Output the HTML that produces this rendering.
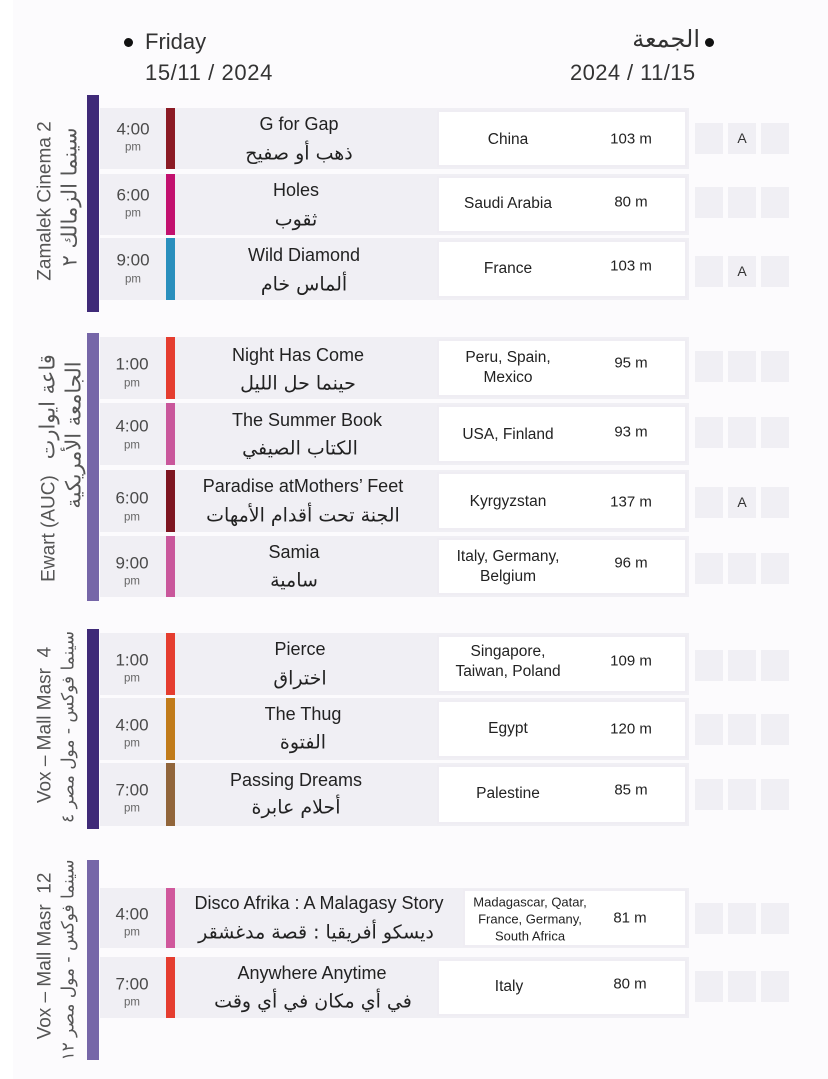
<!DOCTYPE html>
<html><head><meta charset="utf-8">
<style>
html,body{margin:0;padding:0}
body{width:828px;height:1079px;position:relative;overflow:hidden;background:#fcfbfd;font-family:"Liberation Sans","DejaVu Sans",sans-serif;color:#222}
.strip{position:absolute;left:0;top:0;width:13px;height:1079px;background:#fff}
.c{position:absolute;transform:translate(-50%,-50%);white-space:nowrap;text-align:center;line-height:1}
.bar{position:absolute;left:87px;width:12px}
.row{position:absolute;left:100px;width:589px;background:#f0eff4}
.box{position:absolute;background:#fff;border:2px solid #efedf3;box-sizing:border-box}
.cs{position:absolute;left:166px;width:9px}
.sq{position:absolute;width:28px;height:31px;background:#f0eff4;font-size:14px;color:#333;text-align:center;line-height:31px}
.tm{font-size:17px;color:#4a4a4a}
.pm{font-size:11.5px;color:#666}
.en{font-size:18px;color:#222}
.ar{font-size:19px;color:#222;font-family:"DejaVu Sans",sans-serif;direction:rtl}
.ct{font-size:15.5px;color:#222;line-height:20px}
.ct2{font-size:13px;color:#222;line-height:17px}
.du{font-size:15px;color:#222}
.vl{position:absolute;white-space:nowrap;transform:translate(-50%,-50%) rotate(-90deg);font-size:19px;color:#555;line-height:1}
.va{font-family:"DejaVu Sans",sans-serif;font-size:18px}
.dot{position:absolute;width:9px;height:9px;border-radius:50%;background:#111}
.hd{font-size:22px;color:#333;position:absolute;white-space:nowrap;line-height:1}
</style></head><body>
<div class="strip"></div>

<!-- header -->
<div class="dot" style="left:124px;top:38px"></div>
<div class="hd" style="left:145px;top:31px">Friday</div>
<div class="hd" style="left:145px;top:62px;letter-spacing:0.6px">15/11 / 2024</div>
<div class="dot" style="left:705px;top:38px"></div>
<div class="hd" style="right:128px;top:27px;font-family:'DejaVu Sans',sans-serif;font-size:24px">الجمعة</div>
<div class="hd" style="left:570px;top:62px;letter-spacing:0.4px">2024 / 11/15</div>

<!-- SECTION 1 -->
<div class="bar" style="top:95px;height:217px;background:#3f2a78"></div>
<div class="vl" style="left:45px;top:201px">Zamalek Cinema 2</div>
<div class="vl va" style="left:70px;top:197px;font-size:21px">سينما الزمالك ٢</div>

<div class="row" style="top:108px;height:61px"></div>
<div class="box" style="left:437px;top:110px;width:250px;height:57px"></div>
<div class="cs" style="top:108px;height:61px;background:#8b1a24"></div>
<div class="c tm" style="left:133px;top:129px">4:00</div>
<div class="c pm" style="left:133px;top:148px">pm</div>
<div class="c en" style="left:299px;top:124px">G for Gap</div>
<div class="c ar" style="left:299px;top:154px">ذهب أو صفيح</div>
<div class="c ct" style="left:508px;top:140px">China</div>
<div class="c du" style="left:631px;top:139px">103 m</div>
<div class="sq" style="left:695px;top:123px"></div><div class="sq" style="left:728px;top:123px">A</div><div class="sq" style="left:761px;top:123px"></div>

<div class="row" style="top:174px;height:61px"></div>
<div class="box" style="left:437px;top:176px;width:250px;height:57px"></div>
<div class="cs" style="top:174px;height:61px;background:#c2106e"></div>
<div class="c tm" style="left:133px;top:195px">6:00</div>
<div class="c pm" style="left:133px;top:214px">pm</div>
<div class="c en" style="left:296px;top:190px">Holes</div>
<div class="c ar" style="left:296px;top:220px">ثقوب</div>
<div class="c ct" style="left:508px;top:204px">Saudi Arabia</div>
<div class="c du" style="left:631px;top:202px">80 m</div>
<div class="sq" style="left:695px;top:187px"></div><div class="sq" style="left:728px;top:187px"></div><div class="sq" style="left:761px;top:187px"></div>

<div class="row" style="top:238px;height:62px"></div>
<div class="box" style="left:437px;top:240px;width:250px;height:58px"></div>
<div class="cs" style="top:238px;height:62px;background:#2a8fbd"></div>
<div class="c tm" style="left:133px;top:260px">9:00</div>
<div class="c pm" style="left:133px;top:280px">pm</div>
<div class="c en" style="left:304px;top:255px">Wild Diamond</div>
<div class="c ar" style="left:304px;top:285px">ألماس خام</div>
<div class="c ct" style="left:508px;top:269px">France</div>
<div class="c du" style="left:631px;top:266px">103 m</div>
<div class="sq" style="left:695px;top:256px"></div><div class="sq" style="left:728px;top:256px">A</div><div class="sq" style="left:761px;top:256px"></div>

<!-- SECTION 2 -->
<div class="bar" style="top:333px;height:268px;background:#7666a8"></div>
<div class="vl" style="left:48px;top:468px">Ewart (AUC)&nbsp;&nbsp;&nbsp;<span class="va" style="font-size:21px">قاعة ايوارت</span></div>
<div class="vl va" style="left:74px;top:435px;font-size:21px">الجامعة الأمريكية</div>

<div class="row" style="top:337px;height:62px"></div>
<div class="box" style="left:437px;top:339px;width:250px;height:58px"></div>
<div class="cs" style="top:337px;height:62px;background:#e53d2f"></div>
<div class="c tm" style="left:132px;top:364px">1:00</div>
<div class="c pm" style="left:132px;top:384px">pm</div>
<div class="c en" style="left:298px;top:355px">Night Has Come</div>
<div class="c ar" style="left:298px;top:384px">حينما حل الليل</div>
<div class="c ct" style="left:508px;top:368px">Peru, Spain,<br>Mexico</div>
<div class="c du" style="left:631px;top:363px">95 m</div>
<div class="sq" style="left:695px;top:351px"></div><div class="sq" style="left:728px;top:351px"></div><div class="sq" style="left:761px;top:351px"></div>

<div class="row" style="top:403px;height:62px"></div>
<div class="box" style="left:437px;top:405px;width:250px;height:58px"></div>
<div class="cs" style="top:403px;height:62px;background:#c9579b"></div>
<div class="c tm" style="left:132px;top:426px">4:00</div>
<div class="c pm" style="left:132px;top:446px">pm</div>
<div class="c en" style="left:307px;top:420px">The Summer Book</div>
<div class="c ar" style="left:300px;top:449px">الكتاب الصيفي</div>
<div class="c ct" style="left:508px;top:435px">USA, Finland</div>
<div class="c du" style="left:631px;top:432px">93 m</div>
<div class="sq" style="left:695px;top:417px"></div><div class="sq" style="left:728px;top:417px"></div><div class="sq" style="left:761px;top:417px"></div>

<div class="row" style="top:470px;height:62px"></div>
<div class="box" style="left:437px;top:472px;width:250px;height:58px"></div>
<div class="cs" style="top:470px;height:62px;background:#7d1520"></div>
<div class="c tm" style="left:132px;top:498px">6:00</div>
<div class="c pm" style="left:132px;top:518px">pm</div>
<div class="c en" style="left:303px;top:486px">Paradise atMothers’ Feet</div>
<div class="c ar" style="left:303px;top:516px">الجنة تحت أقدام الأمهات</div>
<div class="c ct" style="left:508px;top:502px">Kyrgyzstan</div>
<div class="c du" style="left:631px;top:502px">137 m</div>
<div class="sq" style="left:695px;top:487px"></div><div class="sq" style="left:728px;top:487px">A</div><div class="sq" style="left:761px;top:487px"></div>

<div class="row" style="top:536px;height:61px"></div>
<div class="box" style="left:437px;top:538px;width:250px;height:57px"></div>
<div class="cs" style="top:536px;height:61px;background:#c9579b"></div>
<div class="c tm" style="left:132px;top:563px">9:00</div>
<div class="c pm" style="left:132px;top:582px">pm</div>
<div class="c en" style="left:294px;top:552px">Samia</div>
<div class="c ar" style="left:294px;top:581px">سامية</div>
<div class="c ct" style="left:508px;top:567px">Italy, Germany,<br>Belgium</div>
<div class="c du" style="left:631px;top:563px">96 m</div>
<div class="sq" style="left:695px;top:553px"></div><div class="sq" style="left:728px;top:553px"></div><div class="sq" style="left:761px;top:553px"></div>

<!-- SECTION 3 -->
<div class="bar" style="top:629px;height:200px;background:#3f2a78"></div>
<div class="vl" style="left:45px;top:725px">Vox – Mall Masr&nbsp;&nbsp;4</div>
<div class="vl va" style="left:69px;top:727px;font-size:17px">سينما فوكس - مول مصر ٤</div>

<div class="row" style="top:633px;height:62px"></div>
<div class="box" style="left:437px;top:635px;width:250px;height:58px"></div>
<div class="cs" style="top:633px;height:62px;background:#e53d2f"></div>
<div class="c tm" style="left:132px;top:660px">1:00</div>
<div class="c pm" style="left:132px;top:679px">pm</div>
<div class="c en" style="left:300px;top:649px">Pierce</div>
<div class="c ar" style="left:300px;top:679px">اختراق</div>
<div class="c ct" style="left:508px;top:662px">Singapore,<br>Taiwan, Poland</div>
<div class="c du" style="left:631px;top:661px">109 m</div>
<div class="sq" style="left:695px;top:650px"></div><div class="sq" style="left:728px;top:650px"></div><div class="sq" style="left:761px;top:650px"></div>

<div class="row" style="top:698px;height:62px"></div>
<div class="box" style="left:437px;top:700px;width:250px;height:58px"></div>
<div class="cs" style="top:698px;height:62px;background:#c17b1a"></div>
<div class="c tm" style="left:132px;top:725px">4:00</div>
<div class="c pm" style="left:132px;top:744px">pm</div>
<div class="c en" style="left:303px;top:714px">The Thug</div>
<div class="c ar" style="left:303px;top:743px">الفتوة</div>
<div class="c ct" style="left:508px;top:729px">Egypt</div>
<div class="c du" style="left:631px;top:729px">120 m</div>
<div class="sq" style="left:695px;top:714px"></div><div class="sq" style="left:728px;top:714px"></div><div class="sq" style="left:761px;top:714px"></div>

<div class="row" style="top:763px;height:63px"></div>
<div class="box" style="left:437px;top:765px;width:250px;height:59px"></div>
<div class="cs" style="top:763px;height:63px;background:#91653a"></div>
<div class="c tm" style="left:132px;top:790px">7:00</div>
<div class="c pm" style="left:132px;top:809px">pm</div>
<div class="c en" style="left:296px;top:780px">Passing Dreams</div>
<div class="c ar" style="left:296px;top:808px">أحلام عابرة</div>
<div class="c ct" style="left:508px;top:794px">Palestine</div>
<div class="c du" style="left:631px;top:790px">85 m</div>
<div class="sq" style="left:695px;top:779px"></div><div class="sq" style="left:728px;top:779px"></div><div class="sq" style="left:761px;top:779px"></div>

<!-- SECTION 4 -->
<div class="bar" style="top:860px;height:200px;background:#7666a8"></div>
<div class="vl" style="left:45px;top:956px">Vox – Mall Masr&nbsp;&nbsp;12</div>
<div class="vl va" style="left:69px;top:960px;font-size:17px">سينما فوكس - مول مصر ١٢</div>

<div class="row" style="top:888px;height:60px"></div>
<div class="box" style="left:463px;top:889px;width:224px;height:58px"></div>
<div class="cs" style="top:888px;height:60px;background:#d0589c"></div>
<div class="c tm" style="left:132px;top:914px">4:00</div>
<div class="c pm" style="left:132px;top:933px">pm</div>
<div class="c en" style="left:319px;top:903px">Disco Afrika : A Malagasy Story</div>
<div class="c ar" style="left:316px;top:933px">ديسكو أفريقيا : قصة مدغشقر</div>
<div class="c ct2" style="left:530px;top:919px">Madagascar, Qatar,<br>France, Germany,<br>South Africa</div>
<div class="c du" style="left:630px;top:918px">81 m</div>
<div class="sq" style="left:695px;top:903px"></div><div class="sq" style="left:728px;top:903px"></div><div class="sq" style="left:761px;top:903px"></div>

<div class="row" style="top:957px;height:61px"></div>
<div class="box" style="left:437px;top:959px;width:250px;height:57px"></div>
<div class="cs" style="top:957px;height:61px;background:#e53d2f"></div>
<div class="c tm" style="left:132px;top:984px">7:00</div>
<div class="c pm" style="left:132px;top:1003px">pm</div>
<div class="c en" style="left:312px;top:973px">Anywhere Anytime</div>
<div class="c ar" style="left:313px;top:1002px">في أي مكان في أي وقت</div>
<div class="c ct" style="left:509px;top:987px">Italy</div>
<div class="c du" style="left:630px;top:984px">80 m</div>
<div class="sq" style="left:695px;top:971px"></div><div class="sq" style="left:728px;top:971px"></div><div class="sq" style="left:761px;top:971px"></div>

</body></html>
